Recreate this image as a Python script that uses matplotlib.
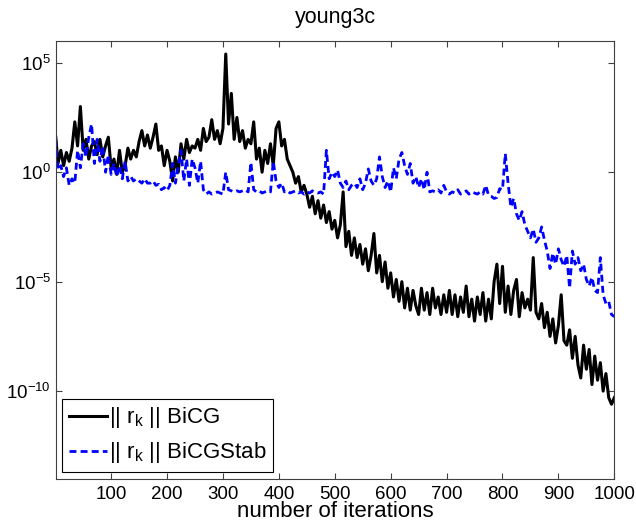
import numpy as np
import matplotlib
matplotlib.use("Agg")
import matplotlib.pyplot as plt

# iteration numbers (sampled every 5 iterations)
iters = [1] + list(range(5, 1001, 5))

# log10 of ||r_k||
bicg_log10 = [
    1.6, 0.4, 1.0, 0.3, 0.9, 0.5, 1.1, 2.3, 1.2, 3.0,
    1.0, 1.5, 0.6, 1.2, 1.4, 0.8, 1.5, 0.7, 1.2, 1.6,
    0.2, 0.6, -0.1, 1.0, 0.0, 0.3, 1.1, 0.6, 1.0, 0.7,
    1.4, 1.9, 1.2, 1.7, 1.1, 1.6, 2.2, 1.0, 1.2, 0.3,
    1.0, 0.5, -0.4, 0.7, 0.0, 1.3, 0.6, 1.5, 0.9, 1.2,
    1.1, 1.5, 1.0, 2.0, 1.4, 1.6, 2.4, 1.5, 1.9, 1.3,
    2.0, 5.4, 2.2, 3.6, 1.5, 2.5, 1.4, 1.9, 1.1, 1.5,
    1.3, 2.3, 0.6, 1.1, 0.0, 1.0, 0.4, 1.3, 0.3, 2.0,
    2.3, 1.2, 1.5, 0.6, 0.3, 0.0, -0.5, -0.2, -0.9, -0.6,
    -1.0, -1.6, -1.1, -1.9, -1.3, -2.1, -1.5, -2.3, -1.8, -2.6,
    -2.2, -3.0, -2.4, -0.9, -3.4, -2.7, -3.8, -3.0, -3.9, -3.3,
    -4.2, -3.5, -4.5, -3.8, -2.8, -4.6, -3.8, -5.0, -4.1, -5.3,
    -4.6, -5.7, -4.9, -5.9, -5.0, -6.2, -5.3, -6.3, -5.4, -6.1,
    -6.5, -5.3, -6.3, -5.5, -6.5, -5.3, -6.2, -5.7, -6.5, -5.6,
    -6.4, -5.4, -6.5, -5.6, -6.6, -5.7, -6.4, -5.2, -6.6, -5.8,
    -6.8, -5.7, -6.5, -5.5, -6.8, -5.8, -6.7, -5.0, -4.2, -6.0,
    -4.3, -6.4, -5.2, -6.5, -5.4, -4.9, -6.6, -5.5, -6.2, -5.8,
    -6.3, -3.9, -6.4, -6.7, -6.0, -7.1, -6.4, -7.5, -6.7, -7.8,
    -7.0, -5.6, -7.7, -7.9, -7.2, -8.5, -7.5, -8.8, -9.4, -7.9,
    -9.0, -8.1, -9.7, -8.4, -9.5, -8.7, -10.0, -9.2, -10.3, -10.6,
    -10.3,
]

bicgstab_log10 = [
    1.5, 0.1, 0.3, -0.2, 0.2, -0.6, -0.3, -0.5, 1.0, 0.2,
    1.3, 0.7, 1.6, 2.2, 0.4, 1.5, 0.5, 1.2, 0.0, 0.8,
    -0.1, 0.4, -0.2, 0.3, -0.3, 0.5, -0.4, -0.2, -0.4, -0.3,
    -0.4, -0.5, -0.3, -0.5, -0.5, -0.4, -0.6, -0.55, -0.8, -0.7,
    -0.85, -0.6, 0.4, -0.5, 0.3, 1.0, -0.4, 0.6, -0.6, 0.6,
    0.2, -0.5, 0.5, -0.8, -1.0, -0.9, -1.0, -0.95, -0.9, -0.95,
    -1.0, 0.0, -0.8, -0.85, -0.9, -0.85, -0.9, -0.85, -0.8, -0.9,
    0.45, -0.8, -0.9, -0.85, -0.95, -0.9, -0.85, -0.9, 0.5, -0.4,
    -0.7, -0.5, -0.9, -0.85, -0.95, -0.9, -0.85, -0.95, -0.9, -1.0,
    -0.9, -0.95, -0.85, -0.9, -0.95, -0.9, -1.0, 1.0, -0.3, 0.0,
    -0.2, 0.1, -0.5, -0.7, -0.4, -0.8, -0.6, -0.5, -0.7, -0.3,
    -0.8, -0.5, 0.15, -0.4, -0.6, -0.3, 0.7, -0.2, -0.7, -0.4,
    -0.9, 0.2, -0.3, 0.6, 0.9, 0.3, -0.1, 0.4, -0.5, -0.2,
    -0.7, -0.3, -0.8, 0.0, -0.9, -0.85, -0.9, -0.8, -0.95, -0.6,
    -0.9, -1.0, -0.9, -0.95, -0.8, -1.0, -0.95, -0.85, -1.0, -0.9,
    -0.95, -1.0, -0.9, -1.0, -0.6, -1.05, -1.1, -1.2, -1.15, -0.75,
    -0.8, 0.85, -0.5, -1.6, -1.2, -1.9, -2.2, -1.8, -2.4, -2.7,
    -3.0, -2.6, -3.2, -3.0, -2.5, -3.1, -3.6, -4.4, -3.7, -4.2,
    -3.5, -4.0, -4.3, -3.8, -5.3, -3.6, -4.2, -3.9, -4.5, -4.2,
    -4.9, -5.2, -4.8, -5.4, -5.5, -3.9, -5.6, -6.0, -5.9, -6.5,
    -6.6,
]

plt.rcParams["font.family"] = ["Liberation Sans", "DejaVu Sans"]

fig = plt.figure(figsize=(6.36, 5.24), dpi=100)
ax = fig.add_axes([0.0877, 0.0865, 0.8782, 0.8355])

ax.semilogy(iters, 10.0 ** np.array(bicg_log10), color="black", lw=2.2,
            label=r"|| $\mathregular{r_k}$ || BiCG")
ax.semilogy(iters, 10.0 ** np.array(bicgstab_log10), color="blue", lw=2,
            dashes=(2.5, 1.5), label=r"|| $\mathregular{r_k}$ || BiCGStab")

ax.set_xlim(1, 1000)
ax.set_ylim(1e-14, 1e6)
ax.set_xticks(range(100, 1001, 100))
ax.set_yticks([1e-10, 1e-5, 1e0, 1e5])
ax.yaxis.set_minor_locator(matplotlib.ticker.NullLocator())
ax.tick_params(direction="in", top=True, right=True, length=4.5,
               labelsize=13.5, width=0.8, color="0.25")
ax.tick_params(axis="x", pad=5)
for s in ax.spines.values():
    s.set_color("0.25")
    s.set_linewidth(0.8)

ax.set_title("young3c", fontsize=15.5, pad=13)
ax.set_xlabel("number of iterations", fontsize=16, labelpad=-1)

leg = ax.legend(loc="lower left", fontsize=16, fancybox=False, framealpha=1,
                edgecolor="black", handlelength=1.7, handletextpad=0.1,
                borderaxespad=0.3, borderpad=0.3, labelspacing=0.45)
leg.get_frame().set_linewidth(0.8)

fig.savefig("out.png", dpi=100)
